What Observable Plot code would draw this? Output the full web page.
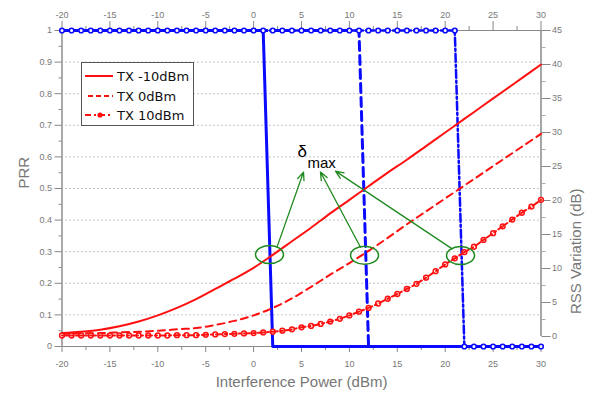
<!DOCTYPE html>
<html><head><meta charset="utf-8">
<script src="https://cdn.jsdelivr.net/npm/d3@7"></script>
<script src="https://cdn.jsdelivr.net/npm/@observablehq/plot@0.6"></script>
<style>
body{margin:0;background:#fff}
#wrap{position:relative;width:595px;height:399px;background:#fff}
#legend{position:absolute;left:81px;top:62px}
</style></head><body><div id="wrap"></div>
<script>
// ---------- data ----------
const interference = [-20,-19,-18,-17,-16,-15,-14,-13,-12,-11,-10,-9,-8,-7,-6,-5,-4,-3,-2,-1,0,1,2,3,4,5,6,7,8,9,10,11,12,13,14,15,16,17,18,19,20,21,22,23,24,25,26,27,28,29,30];
// PRR (left axis) per TX power, at each interference value
const prrTxM10 = [1,1,1,1,1,1,1,1,1,1,1,1,1,1,1,1,1,1,1,1,1,1,0,0,0,0,0,0,0,0,0,0,0,0,0,0,0,0,0,0,0,0,0,0,0,0,0,0,0,0,0];
const prrTx0   = [1,1,1,1,1,1,1,1,1,1,1,1,1,1,1,1,1,1,1,1,1,1,1,1,1,1,1,1,1,1,1,1,0,0,0,0,0,0,0,0,0,0,0,0,0,0,0,0,0,0,0];
const prrTx10  = [1,1,1,1,1,1,1,1,1,1,1,1,1,1,1,1,1,1,1,1,1,1,1,1,1,1,1,1,1,1,1,1,1,1,1,1,1,1,1,1,1,1,0,0,0,0,0,0,0,0,0];
// RSS variation (right axis, dB)
const interferenceEven = [-20,-18,-16,-14,-12,-10,-8,-6,-4,-2,0,2,4,6,8,10,12,14,16,18,20,22,24,26,28,30];
const rssTxM10 = [0.5,0.7,1.0,1.5,2.2,3.1,4.2,5.5,7.0,8.5,10.1,12.0,14.0,16.0,18.1,20.1,22.1,24.1,26.0,28.0,30.0,32.0,34.0,36.0,38.0,40.0];
const rssTx0   = [0.4,0.45,0.5,0.6,0.7,0.85,1.05,1.25,1.7,2.3,3.1,4.2,5.6,7.3,9.1,10.8,12.6,14.5,16.5,18.4,20.3,22.2,24.1,26.0,27.9,29.8];
const rssTx10  = [0.15,0.15,0.15,0.15,0.15,0.15,0.15,0.15,0.15,0.15,0.15,0.15,0.2,0.2,0.2,0.25,0.3,0.35,0.4,0.45,0.5,0.6,0.7,0.85,1.05,1.35,1.55,1.85,2.2,2.6,3.1,3.65,4.2,4.85,5.55,6.25,7.0,7.75,8.65,9.6,10.6,11.5,12.4,13.2,14.2,15.2,16.2,17.2,18.2,19.1,20.1];
const seriesNames = ["TX -10dBm","TX 0dBm","TX 10dBm"];
// ticks
const xTicks = [-20,-15,-10,-5,0,5,10,15,20,25,30];
const xMinor = [-17.5,-12.5,-7.5,-2.5,2.5,7.5,12.5,17.5,22.5,27.5];
const prrTicks = [0,0.1,0.2,0.3,0.4,0.5,0.6,0.7,0.8,0.9,1];
const prrMinor = [0.05,0.15,0.25,0.35,0.45,0.55,0.65,0.75,0.85,0.95];
const prrGrid = [0.1,0.2,0.3,0.4,0.5,0.6,0.7,0.8,0.9];
const rssTicks = [0,5,10,15,20,25,30,35,40,45];
const rssMinor = [2.5,7.5,12.5,17.5,22.5,27.5,32.5,37.5,42.5];
const rssDomain = [-1.47, 45];
// annotation
const ellipseX = [1.66, 11.58, 21.6];
const ellipseY = [0.291, 0.289, 0.288];
const arrowFromX = [2.46, 11.16, 20.73];
const arrowFromY = [0.316, 0.314, 0.309];
const arrowToX = [5.21, 6.98, 8.55];
const arrowToY = [0.552, 0.552, 0.555];

// ---------- helpers ----------
const toY = v => (v - rssDomain[0]) / (rssDomain[1] - rssDomain[0]);
const fromY = p => p * (rssDomain[1] - rssDomain[0]) + rssDomain[0];
const prrRows = (vals) => interference.map((x, i) => ({x, y: vals[i]}));
const rssRows = (xs, vals) => xs.map((x, i) => ({x, y: toY(vals[i])}));

const blueA = prrRows(prrTxM10), blueB = prrRows(prrTx0), blueC = prrRows(prrTx10);
const redA = rssRows(interferenceEven, rssTxM10);
const redB = rssRows(interferenceEven, rssTx0);
const redC = rssRows(interference, rssTx10);
const ellipses = ellipseX.map((x, i) => ({x, y: ellipseY[i]}));
const arrows = arrowFromX.map((x, i) => ({x1: x, y1: arrowFromY[i], x2: arrowToX[i], y2: arrowToY[i]}));

const ellipseSymbol = {draw(ctx) {
  const rx = 14, ry = 9, kx = rx * 0.5523, ky = ry * 0.5523;
  ctx.moveTo(rx, 0);
  ctx.bezierCurveTo(rx, ky, kx, ry, 0, ry);
  ctx.bezierCurveTo(-kx, ry, -rx, ky, -rx, 0);
  ctx.bezierCurveTo(-rx, -ky, -kx, -ry, 0, -ry);
  ctx.bezierCurveTo(kx, -ry, rx, -ky, rx, 0);
  ctx.closePath();
}};

const fmt = d => String(d);
const axisGray = "#888";
const green = "#1f8a1f";
const blue = "#0a0aff";
const red = "#ff1010";

const chart = Plot.plot({
  width: 595, height: 399,
  marginLeft: 61.5, marginRight: 54.5, marginTop: 30, marginBottom: 53,
  x: {domain: [-20, 30], axis: null},
  y: {domain: [0, 1], axis: null},
  style: {fontFamily: "Liberation Sans, Arial, sans-serif", fontSize: "9px", color: "#777", background: "white"},
  marks: [
    Plot.gridY(prrGrid, {stroke: "#888", strokeOpacity: 1, strokeDasharray: "1,3"}),
    // axis lines
    Plot.ruleX([-20], {stroke: "#aaa", strokeWidth: 2}),
    Plot.ruleY([1], {stroke: axisGray}),
    Plot.ruleY([0], {stroke: axisGray}),
    Plot.ruleX([30], {y1: toY(0), y2: 1, stroke: axisGray, strokeWidth: 1.5}),
    // left axis
    Plot.axisY(prrTicks, {anchor: "left", tickSize: 7, tickPadding: 3, tickFormat: fmt, label: null, stroke: axisGray}),
    Plot.axisY(prrMinor, {anchor: "left", tickSize: 3, tickFormat: () => "", label: null, stroke: axisGray}),
    // right axis
    Plot.axisY(rssTicks.map(toY), {anchor: "right", tickSize: 9, tickPadding: 2, tickFormat: d => String(Math.round(fromY(d))), label: null, stroke: axisGray}),
    Plot.axisY(rssMinor.map(toY), {anchor: "right", tickSize: 4, tickFormat: () => "", label: null, stroke: "#aaa"}),
    // bottom axis
    Plot.axisX(xTicks, {anchor: "bottom", tickSize: 6, tickPadding: 8, tickFormat: fmt, label: null, stroke: axisGray}),
    Plot.axisX(xMinor, {anchor: "bottom", tickSize: 4, tickFormat: () => "", label: null, stroke: axisGray}),
    // top axis
    Plot.axisX(xTicks, {anchor: "top", tickSize: 10, tickPadding: 3, tickFormat: fmt, label: null, stroke: axisGray}),
    Plot.axisX(xMinor, {anchor: "top", tickSize: 5, tickFormat: () => "", label: null, stroke: axisGray}),
    // axis titles
    Plot.text(["PRR"], {frameAnchor: "left", dx: -37.5, rotate: -90, fontSize: 15, fill: "#777"}),
    Plot.text(["RSS Variation (dB)"], {frameAnchor: "right", dx: 35.5, rotate: -90, fontSize: 15, fill: "#777"}),
    Plot.text(["Interference Power (dBm)"], {frameAnchor: "bottom", dy: 40, fontSize: 15, fill: "#777"}),
    // PRR (blue)
    Plot.line(blueA, {x: "x", y: "y", stroke: blue, strokeWidth: 3}),
    Plot.line(blueB, {x: "x", y: "y", stroke: blue, strokeWidth: 3, strokeDasharray: "9,5"}),
    Plot.line(blueC, {x: "x", y: "y", stroke: blue, strokeWidth: 2.5, strokeDasharray: "8,3,2,3"}),
    Plot.dot(blueC, {x: "x", y: "y", r: 2.3, fill: "white", stroke: blue, strokeWidth: 1.6}),
    // RSS variation (red)
    Plot.line(redA, {x: "x", y: "y", stroke: red, strokeWidth: 2, curve: "catmull-rom"}),
    Plot.line(redB, {x: "x", y: "y", stroke: red, strokeWidth: 2, strokeDasharray: "7,5", curve: "catmull-rom"}),
    Plot.dot(redC, {x: "x", y: "y", r: 2.4, fill: "white", stroke: red, strokeWidth: 1.5}),
    Plot.line(redC, {x: "x", y: "y", stroke: red, strokeWidth: 2, strokeDasharray: "6,3,2,3", curve: "catmull-rom"}),
    // annotations
    Plot.dot(ellipses, {x: "x", y: "y", symbol: ellipseSymbol, fill: "none", stroke: green, strokeWidth: 1.5}),
    Plot.arrow(arrows, {x1: "x1", y1: "y1", x2: "x2", y2: "y2", stroke: green, strokeWidth: 1.3, headLength: 10, headAngle: 45}),
    Plot.text([{x: 4.58, y: 0.617, t: "δ"}], {x: "x", y: "y", text: "t", textAnchor: "start", fontSize: 17, fill: "black"}),
    Plot.text([{x: 5.63, y: 0.579, t: "max"}], {x: "x", y: "y", text: "t", textAnchor: "start", fontSize: 15, fill: "black"})
  ]
});
const wrap = document.getElementById("wrap");
wrap.appendChild(chart);

// legend overlay
const lg = d3.select(wrap).append("svg").attr("id", "legend").attr("width", 113).attr("height", 64)
  .style("font-family", "DejaVu Sans, sans-serif").style("font-size", "13px");
lg.append("rect").attr("x", 0.5).attr("y", 0.5).attr("width", 112).attr("height", 63).attr("fill", "white").attr("stroke", "#555");
const rowsY = [14, 34, 53];
const dashes = [null, "5,3", "6,3,2,3"];
seriesNames.forEach((name, i) => {
  const ln = lg.append("line").attr("x1", i === 1 ? 7 : 4).attr("x2", i === 2 ? 30 : 32).attr("y1", rowsY[i]).attr("y2", rowsY[i])
    .attr("stroke", red).attr("stroke-width", 2);
  if (dashes[i]) ln.attr("stroke-dasharray", dashes[i]);
  if (i === 2) lg.append("circle").attr("cx", 19).attr("cy", rowsY[i]).attr("r", 2.6).attr("fill", red);
  lg.append("text").attr("x", 36).attr("y", rowsY[i]).attr("dy", "0.36em").attr("fill", "#111").text(name);
});
</script>
</body></html>
